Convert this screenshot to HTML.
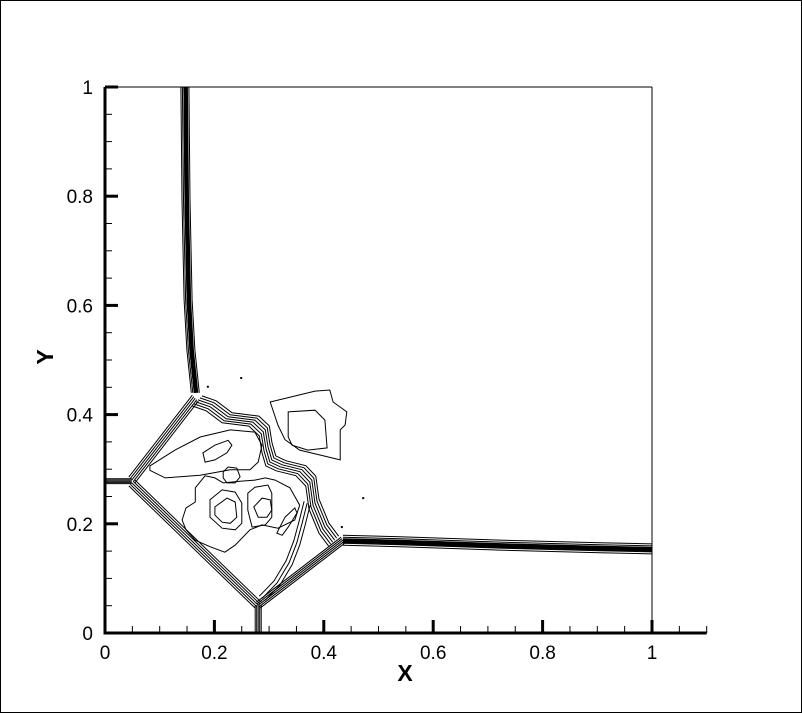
<!DOCTYPE html>
<html><head><meta charset="utf-8"><style>
html,body{margin:0;padding:0;background:#fff}
#wrap{position:relative;width:802px;height:713px;overflow:hidden}
svg text{font-family:"Liberation Sans",Arial,sans-serif}
</style></head><body>
<div id="wrap">
<svg id="chart" width="802" height="713" viewBox="0 0 802 713" xmlns="http://www.w3.org/2000/svg">
<rect x="0.5" y="0.5" width="801" height="712" fill="#fff" stroke="#000" stroke-width="1"/>
<g id="plot"></g>
<g id="axes"></g>
<text x="405" y="681" font-size="23" font-weight="bold" text-anchor="middle">X</text>
<text x="0" y="0" font-size="23" font-weight="bold" text-anchor="middle" transform="translate(53,357) rotate(-90)">Y</text>
</svg></div>
<script>
const xTicks=[0,0.2,0.4,0.6,0.8,1];
const yTicks=[0,0.2,0.4,0.6,0.8,1];
const xTickLabels=["0","0.2","0.4","0.6","0.8","1"];
const yTickLabels=["0","0.2","0.4","0.6","0.8","1"];
const vertShockX=[0.146,0.148,0.152,0.157,0.165];
const vertShockY=[1,0.793,0.610,0.518,0.440];
const horizShockX=[0.435,0.539,0.722,0.905,1];
const horizShockY=[0.170,0.167,0.161,0.156,0.154];
const tlDiagX=[0.165,0.049];const tlDiagY=[0.430,0.280];
const leftHX=[0,0.049];const leftHY=[0.278,0.278];
const llDiagX=[0.049,0.280];const llDiagY=[0.275,0.051];
const botVX=[0.280,0.280];const botVY=[0.051,0];
const lrDiagX=[0.280,0.435];const lrDiagY=[0.051,0.170];
const mainBundleX=[0.170,0.196,0.225,0.274,0.293,0.298,0.305,0.324,0.360,0.378,0.384,0.402,0.420];
const mainBundleY=[0.427,0.418,0.396,0.390,0.372,0.341,0.317,0.308,0.299,0.280,0.238,0.194,0.170];
const blobOuterX=[0.302,0.384,0.411,0.417,0.442,0.439,0.430,0.430,0.393,0.356,0.329,0.316];
const blobOuterY=[0.423,0.443,0.445,0.423,0.405,0.381,0.372,0.317,0.326,0.335,0.354,0.381];
const blobInnerX=[0.335,0.384,0.402,0.406,0.371,0.342,0.335];
const blobInnerY=[0.405,0.408,0.390,0.339,0.335,0.344,0.359];
const bigLoopX=[0.141,0.148,0.165,0.165,0.183,0.201,0.216,0.247,0.274,0.293,0.311,0.338,0.356,0.347,0.316,0.287,0.265,0.238,0.219,0.192,0.165,0.148];
const bigLoopY=[0.207,0.229,0.240,0.266,0.288,0.284,0.275,0.278,0.280,0.284,0.280,0.266,0.234,0.207,0.192,0.198,0.189,0.161,0.148,0.158,0.170,0.189];
const eyeOuterX=[0.192,0.214,0.238,0.250,0.250,0.238,0.214,0.192];
const eyeOuterY=[0.244,0.262,0.258,0.238,0.201,0.189,0.192,0.212];
const eyeInnerX=[0.201,0.223,0.238,0.241,0.229,0.214,0.201];
const eyeInnerY=[0.231,0.247,0.240,0.212,0.201,0.203,0.216];
const smallCircX=[0.216,0.225,0.241,0.247,0.238,0.223,0.216];
const smallCircY=[0.295,0.304,0.302,0.286,0.275,0.275,0.284];
const rEyeX=[0.272,0.287,0.302,0.305,0.296,0.280];
const rEyeY=[0.231,0.247,0.244,0.225,0.212,0.212];
const rEyeOuterX=[0.261,0.274,0.298,0.305,0.305,0.293,0.269,0.261];
const rEyeOuterY=[0.256,0.267,0.271,0.256,0.212,0.198,0.194,0.225];
const ulEyeX=[0.179,0.201,0.225,0.232,0.223,0.201,0.183];
const ulEyeY=[0.330,0.344,0.353,0.344,0.330,0.317,0.313];
const ulLoopX=[0.082,0.128,0.174,0.229,0.274,0.287,0.280,0.265,0.229,0.174,0.110,0.082];
const ulLoopY=[0.306,0.335,0.359,0.372,0.368,0.344,0.313,0.299,0.299,0.289,0.284,0.298];
const lrEyeX=[0.314,0.329,0.347,0.351,0.335,0.324];
const lrEyeY=[0.183,0.212,0.229,0.220,0.194,0.179];
const lrLinesX=[0.293,0.320,0.342,0.356,0.366,0.375];
const lrLinesY=[0.060,0.088,0.125,0.161,0.198,0.234];
const dotsX=[0.249,0.188,0.472,0.433];
const dotsY=[0.467,0.451,0.247,0.194];

const X0=105,XS=547,Y0=633,YS=546;
function sx(v){return X0+XS*v;}
function sy(v){return Y0-YS*v;}
const NS="http://www.w3.org/2000/svg";
const plot=document.getElementById('plot');
const axes=document.getElementById('axes');
function mk(tag,attrs,parent){const e=document.createElementNS(NS,tag);for(const k in attrs)e.setAttribute(k,attrs[k]);parent.appendChild(e);return e;}
function line(xs,ys,name,dx,dy,w,closed){
  let pts=xs.map((x,i)=>(sx(x)+dx).toFixed(1)+","+(sy(ys[i])+dy).toFixed(1)).join(" ");
  const e=mk(closed?'polygon':'polyline',{points:pts,fill:'none',stroke:'#000','stroke-width':w},plot);
  
  
  return e;
}
[-4,-2.5,-1,0,1,2.5,4].forEach(o=>line(vertShockX,vertShockY,'vertical-shock-contour',o,0,1,false));
line(vertShockX,vertShockY,'vertical-shock-core',0.5,0,4,false);
[-5,-3,-1.5,0,1.5,3,5].forEach(o=>line(horizShockX,horizShockY,'horizontal-shock-contour',0,o,1,false));
line(horizShockX,horizShockY,'horizontal-shock-core',0,0.5,4.5,false);
[-3,-1.5,0,1.5,3].forEach(o=>{
  line(tlDiagX,tlDiagY,'upper-left-diagonal-contour',o,o,1,false);
  line(leftHX,leftHY,'left-horizontal-contour',0,o*0.8,1,false);
  line(llDiagX,llDiagY,'lower-left-diagonal-contour',o,-o,1,false);
  line(botVX,botVY,'bottom-vertical-contour',o,0,1,false);
  line(lrDiagX,lrDiagY,'lower-right-diagonal-contour',o*0.6,o,1,false);
});
[-3,-2,-1,0,1,2].forEach(k=>line(mainBundleX,mainBundleY,'main-curved-contour',k*2,-k*2,1,false));
[0,1,2].forEach(k=>line(lrLinesX,lrLinesY,'lower-right-interior-contour',-k*3,-k*2,1,false));
line(blobOuterX,blobOuterY,'upper-right-blob-outer',0,0,1,true);
line(blobInnerX,blobInnerY,'upper-right-blob-inner',0,0,1,true);
line(bigLoopX,bigLoopY,'central-big-loop',0,0,1,true);
line(eyeOuterX,eyeOuterY,'left-eye-outer',0,0,1,true);
line(eyeInnerX,eyeInnerY,'left-eye-inner',0,0,1,true);
line(smallCircX,smallCircY,'small-circle-contour',0,0,1,true);
line(rEyeX,rEyeY,'right-eye-contour',0,0,1,true);
line(rEyeOuterX,rEyeOuterY,'right-eye-outer',0,0,1,true);
line(ulEyeX,ulEyeY,'upper-left-eye',0,0,1,true);
line(ulLoopX,ulLoopY,'upper-left-loop',0,0,1,true);
line(lrEyeX,lrEyeY,'lower-right-eye',0,0,1,true);
dotsX.forEach((x,i)=>{const d=mk('rect',{x:sx(x)-1,y:sy(dotsY[i])-1,width:2,height:2,fill:'#000'},plot);

});

let f=mk('line',{x1:sx(0),y1:sy(1),x2:sx(1),y2:sy(1),stroke:'#000','stroke-width':1},axes);

f=mk('line',{x1:sx(1),y1:sy(1),x2:sx(1),y2:sy(0),stroke:'#000','stroke-width':1},axes);

let ax=mk('line',{x1:sx(0)-1.5,y1:sy(0),x2:sx(1.1),y2:sy(0),stroke:'#000','stroke-width':3},axes);

ax=mk('line',{x1:sx(0),y1:sy(0),x2:sx(0),y2:sy(1),stroke:'#000','stroke-width':3},axes);

for(let i=0;i<=22;i++){const v=i*0.05;const major=i%4===0;
 const t=mk('line',{x1:sx(v),y1:sy(0),x2:sx(v),y2:sy(0)-(major?13:7),stroke:'#000','stroke-width':major?3:1},axes);
 }
for(let i=0;i<=20;i++){const v=i*0.05;const major=i%4===0;
 const t=mk('line',{x1:sx(0),y1:sy(v),x2:sx(0)+(major?13:7),y2:sy(v),stroke:'#000','stroke-width':major?3:1},axes);
 }
xTicks.forEach((v,i)=>{const t=mk('text',{x:sx(v),y:659,'font-size':19,'text-anchor':'middle'},axes);t.textContent=xTickLabels[i];
 });
yTicks.forEach((v,i)=>{const t=mk('text',{x:93,y:sy(v)+7,'font-size':19,'text-anchor':'end'},axes);t.textContent=yTickLabels[i];
 });
</script>
</body></html>
